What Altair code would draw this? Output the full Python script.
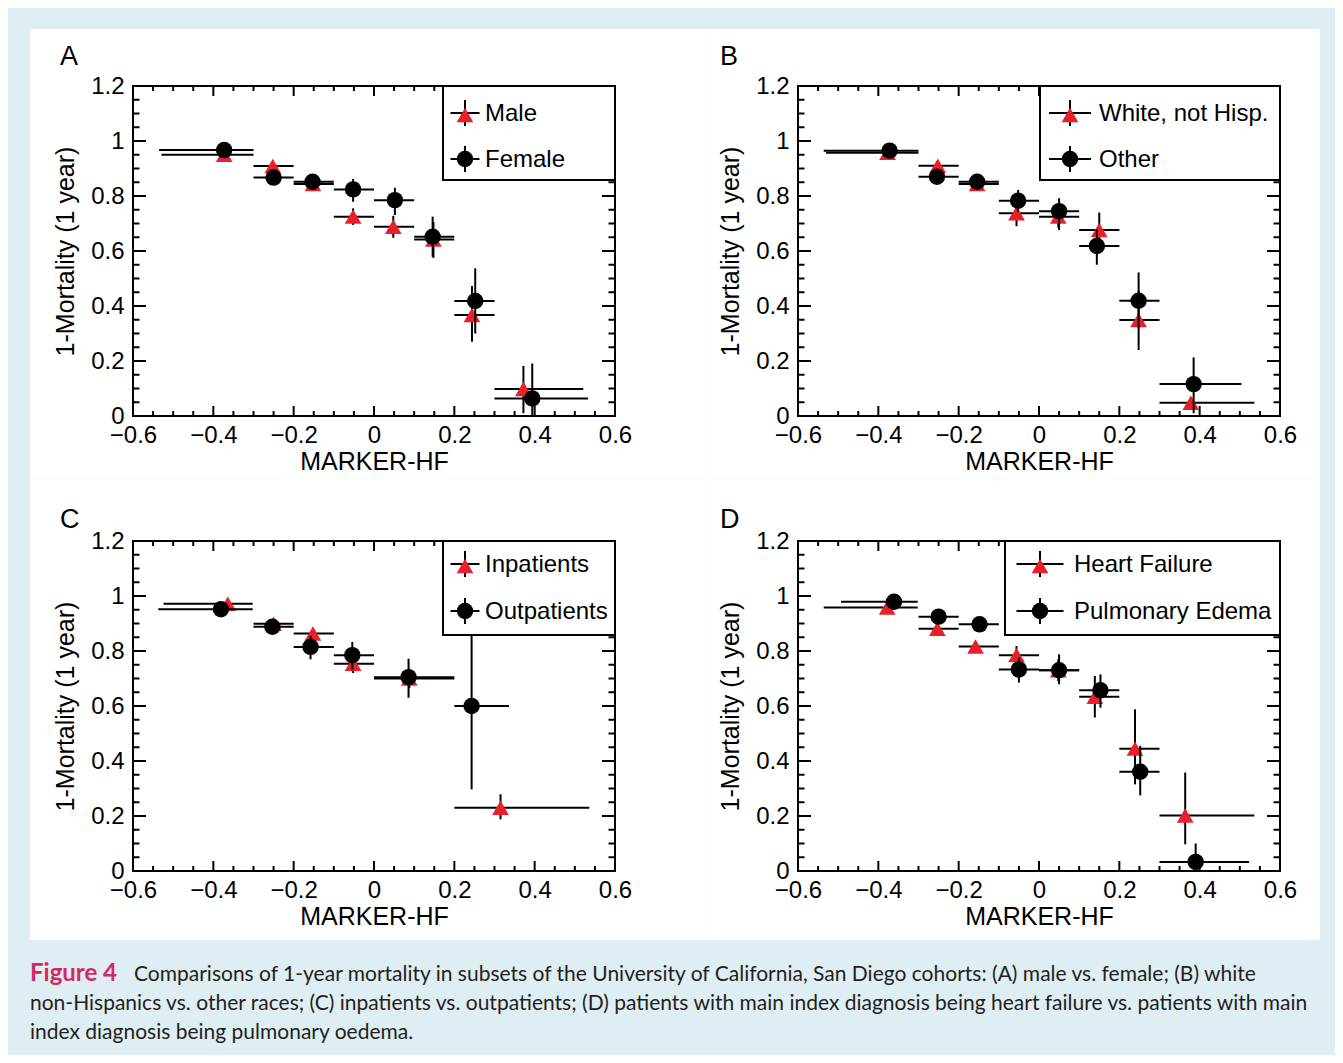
import altair as alt
import pandas as pd

# ---------------- axes / labels ----------------
X_DOMAIN = [-0.6, 0.6]
Y_DOMAIN = [0.0, 1.2]
X_MAJOR = [-0.6, -0.4, -0.2, 0.0, 0.2, 0.4, 0.6]
X_MINOR = [-0.55, -0.5, -0.45, -0.35, -0.3, -0.25, -0.15, -0.1, -0.05,
           0.05, 0.1, 0.15, 0.25, 0.3, 0.35, 0.45, 0.5, 0.55]
Y_MAJOR = [0.0, 0.2, 0.4, 0.6, 0.8, 1.0, 1.2]
Y_MINOR = [0.05, 0.1, 0.15, 0.25, 0.3, 0.35, 0.45, 0.5, 0.55,
           0.65, 0.7, 0.75, 0.85, 0.9, 0.95, 1.05, 1.1, 1.15]
X_TITLE = "MARKER-HF"
Y_TITLE = "1-Mortality (1 year)"
PANEL_LETTERS = ["A", "B", "C", "D"]
LEGEND_NAMES = [["Male", "Female"],
                ["White, not Hisp.", "Other"],
                ["Inpatients", "Outpatients"],
                ["Heart Failure", "Pulmonary Edema"]]
CAPTION_HEAD = "Figure 4"
CAPTION_LINES = [
    "Comparisons of 1-year mortality in subsets of the University of California, San Diego cohorts: (A) male vs. female; (B) white",
    "non-Hispanics vs. other races; (C) inpatients vs. outpatients; (D) patients with main index diagnosis being heart failure vs. patients with main",
    "index diagnosis being pulmonary oedema.",
]

# ---------------- Panel A ----------------
A1_x   = [-0.373, -0.252, -0.152, -0.052, 0.048, 0.148, 0.244, 0.372]
A1_xlo = [-0.529, -0.300, -0.200, -0.100, 0.000, 0.100, 0.200, 0.300]
A1_xhi = [-0.300, -0.200, -0.100, 0.000, 0.100, 0.200, 0.300, 0.521]
A1_y   = [0.950, 0.909, 0.844, 0.725, 0.688, 0.642, 0.367, 0.098]
A1_ylo = [0.940, 0.895, 0.830, 0.695, 0.648, 0.575, 0.270, 0.010]
A1_yhi = [0.960, 0.923, 0.858, 0.755, 0.728, 0.705, 0.473, 0.182]

A2_x   = [-0.373, -0.250, -0.153, -0.052, 0.052, 0.146, 0.252, 0.394]
A2_xlo = [-0.535, -0.300, -0.200, -0.100, 0.000, 0.100, 0.200, 0.300]
A2_xhi = [-0.300, -0.200, -0.100, 0.000, 0.100, 0.200, 0.300, 0.533]
A2_y   = [0.967, 0.867, 0.852, 0.824, 0.785, 0.652, 0.418, 0.064]
A2_ylo = [0.957, 0.852, 0.837, 0.779, 0.731, 0.579, 0.300, 0.000]
A2_yhi = [0.977, 0.882, 0.867, 0.862, 0.830, 0.725, 0.537, 0.191]

# ---------------- Panel B ----------------
B1_x   = [-0.377, -0.252, -0.154, -0.056, 0.048, 0.150, 0.248, 0.378]
B1_xlo = [-0.530, -0.300, -0.200, -0.100, 0.000, 0.100, 0.200, 0.300]
B1_xhi = [-0.300, -0.200, -0.100, 0.000, 0.100, 0.200, 0.300, 0.536]
B1_y   = [0.957, 0.910, 0.844, 0.737, 0.725, 0.676, 0.349, 0.048]
B1_ylo = [0.947, 0.895, 0.829, 0.690, 0.685, 0.610, 0.240, 0.030]
B1_yhi = [0.967, 0.925, 0.859, 0.762, 0.765, 0.740, 0.455, 0.066]

B2_x   = [-0.372, -0.254, -0.154, -0.052, 0.050, 0.144, 0.248, 0.385]
B2_xlo = [-0.536, -0.300, -0.200, -0.100, 0.000, 0.100, 0.200, 0.300]
B2_xhi = [-0.300, -0.200, -0.100, 0.000, 0.100, 0.200, 0.300, 0.504]
B2_y   = [0.965, 0.870, 0.852, 0.783, 0.745, 0.618, 0.419, 0.116]
B2_ylo = [0.955, 0.855, 0.837, 0.743, 0.676, 0.550, 0.319, 0.010]
B2_yhi = [0.975, 0.885, 0.867, 0.822, 0.792, 0.679, 0.522, 0.213]

# ---------------- Panel C ----------------
C1_x   = [-0.364, -0.250, -0.152, -0.052, 0.088, 0.315]
C1_xlo = [-0.524, -0.300, -0.200, -0.100, 0.000, 0.200]
C1_xhi = [-0.302, -0.200, -0.100, 0.000, 0.200, 0.536]
C1_y   = [0.972, 0.899, 0.864, 0.754, 0.700, 0.230]
C1_ylo = [0.962, 0.884, 0.844, 0.720, 0.665, 0.188]
C1_yhi = [0.982, 0.914, 0.884, 0.788, 0.735, 0.279]

C2_x   = [-0.381, -0.253, -0.158, -0.054, 0.086, 0.243]
C2_xlo = [-0.537, -0.300, -0.200, -0.100, 0.000, 0.200]
C2_xhi = [-0.302, -0.200, -0.100, 0.000, 0.200, 0.336]
C2_y   = [0.952, 0.888, 0.815, 0.785, 0.705, 0.600]
C2_ylo = [0.942, 0.873, 0.770, 0.733, 0.630, 0.297]
C2_yhi = [0.962, 0.903, 0.855, 0.833, 0.772, 0.903]

# ---------------- Panel D ----------------
D1_x   = [-0.378, -0.253, -0.158, -0.056, 0.048, 0.139, 0.239, 0.364]
D1_xlo = [-0.536, -0.300, -0.200, -0.100, 0.000, 0.100, 0.200, 0.300]
D1_xhi = [-0.302, -0.200, -0.100, 0.000, 0.100, 0.200, 0.300, 0.536]
D1_y   = [0.958, 0.881, 0.816, 0.785, 0.730, 0.634, 0.445, 0.202]
D1_ylo = [0.948, 0.866, 0.801, 0.750, 0.690, 0.558, 0.315, 0.097]
D1_yhi = [0.968, 0.896, 0.831, 0.818, 0.770, 0.709, 0.588, 0.358]

D2_x   = [-0.361, -0.250, -0.148, -0.050, 0.050, 0.153, 0.252, 0.390]
D2_xlo = [-0.493, -0.300, -0.200, -0.100, 0.000, 0.100, 0.200, 0.300]
D2_xhi = [-0.302, -0.200, -0.100, 0.000, 0.100, 0.200, 0.300, 0.523]
D2_y   = [0.979, 0.925, 0.897, 0.733, 0.730, 0.657, 0.361, 0.033]
D2_ylo = [0.969, 0.910, 0.882, 0.685, 0.679, 0.594, 0.275, 0.000]
D2_yhi = [0.989, 0.940, 0.912, 0.776, 0.788, 0.715, 0.455, 0.100]

# ---------------- styling ----------------
W, H = 482, 330
RED = "#e8202a"
BLACK = "#000000"
BLUE_BG = "#deeef3"
PINK = "#d42a63"
FONT = "Liberation Sans"
CAP_FONT = "Lato"
LW = 2


def mkdf(x, xlo, xhi, y, ylo, yhi):
    return pd.DataFrame({"x": x, "xlo": xlo, "xhi": xhi,
                         "y": y, "ylo": ylo, "yhi": yhi})


ONE = pd.DataFrame({"k": [0]})


def panel(letter, names, s1, s2, sheet, leg_left, sym_x, half, text_x,
          rows, letter_pos, caption=False):
    xs = alt.Scale(domain=X_DOMAIN, nice=False, zero=False)
    ys = alt.Scale(domain=Y_DOMAIN, nice=False, zero=False)
    x_axis = alt.Axis(title=X_TITLE, values=X_MAJOR, format=".1~f",
                      labelPadding=7, titlePadding=2, zindex=2)
    y_axis = alt.Axis(title=Y_TITLE, values=Y_MAJOR, format=".1~f",
                      labelPadding=9, titlePadding=12, zindex=2)

    def X(f):
        return alt.X(f, scale=xs, axis=x_axis)

    def Y(f):
        return alt.Y(f, scale=ys, axis=y_axis)

    layers = []
    # white sheet behind the panel
    layers.append(alt.Chart(ONE).mark_rect(fill="white", strokeWidth=0).encode(
        x=alt.value(sheet[0]), x2=alt.value(sheet[1]),
        y=alt.value(sheet[2]), y2=alt.value(sheet[3])))

    # ticks on the four sides, pointing inwards (ROOT style)
    for vals, ln, top in [(X_MAJOR, 10, False), (X_MINOR, 5, False),
                          (X_MAJOR, 10, True), (X_MINOR, 5, True)]:
        y1, y2 = (0, ln) if top else (H, H - ln)
        layers.append(alt.Chart(pd.DataFrame({"v": vals})).mark_rule(
            color="black", strokeWidth=LW).encode(
            x=X("v:Q"), y=alt.value(y1), y2=alt.value(y2)))
    for vals, ln, right in [(Y_MAJOR, 13, False), (Y_MINOR, 6.5, False),
                            (Y_MAJOR, 13, True), (Y_MINOR, 6.5, True)]:
        x1, x2 = (W, W - ln) if right else (0, ln)
        layers.append(alt.Chart(pd.DataFrame({"v": vals})).mark_rule(
            color="black", strokeWidth=LW).encode(
            y=Y("v:Q"), x=alt.value(x1), x2=alt.value(x2)))

    # data series
    for df, shape, col, size in [(s1, "triangle-up", RED, 280), (s2, "circle", BLACK, 270)]:
        base = alt.Chart(df)
        layers.append(base.mark_rule(color="black", strokeWidth=LW).encode(
            x=X("xlo:Q"), x2="xhi:Q", y=Y("y:Q")))
        layers.append(base.mark_rule(color="black", strokeWidth=LW).encode(
            x=X("x:Q"), y=Y("ylo:Q"), y2="yhi:Q"))
        layers.append(base.mark_point(shape=shape, filled=True, size=size,
                                      color=col, opacity=1, strokeWidth=0).encode(
            x=X("x:Q"), y=Y("y:Q")))

    # legend box
    layers.append(alt.Chart(ONE).mark_rect(fill="white", stroke="black",
                                           strokeWidth=LW).encode(
        x=alt.value(leg_left), x2=alt.value(W), y=alt.value(0), y2=alt.value(94)))
    for name, ry, shape, col, size in [(names[0], rows[0], "triangle-up", RED, 280),
                                       (names[1], rows[1], "circle", BLACK, 270)]:
        layers.append(alt.Chart(ONE).mark_rule(color="black", strokeWidth=LW).encode(
            x=alt.value(sym_x - half), x2=alt.value(sym_x + half), y=alt.value(ry)))
        layers.append(alt.Chart(ONE).mark_rule(color="black", strokeWidth=LW).encode(
            x=alt.value(sym_x), y=alt.value(ry - 13), y2=alt.value(ry + 13)))
        layers.append(alt.Chart(ONE).mark_point(shape=shape, filled=True, size=size,
                                                color=col, opacity=1, strokeWidth=0).encode(
            x=alt.value(sym_x), y=alt.value(ry + (2 if shape == "triangle-up" else 0))))
        layers.append(alt.Chart(pd.DataFrame({"t": [name]})).mark_text(
            align="left", baseline="middle", font=FONT, fontSize=24,
            color="black").encode(
            x=alt.value(text_x), y=alt.value(ry + 1), text="t:N"))

    # plot frame
    layers.append(alt.Chart(ONE).mark_rect(fill="transparent", stroke="black",
                                           strokeWidth=LW).encode(
        x=alt.value(0), x2=alt.value(W), y=alt.value(0), y2=alt.value(H)))

    # panel letter
    layers.append(alt.Chart(pd.DataFrame({"t": [letter]})).mark_text(
        align="left", baseline="alphabetic", font=FONT, fontSize=27,
        color="black").encode(
        x=alt.value(letter_pos[0]), y=alt.value(letter_pos[1]), text="t:N"))

    if caption:
        layers.append(alt.Chart(pd.DataFrame({"t": [CAPTION_HEAD]})).mark_text(
            align="left", baseline="alphabetic", font=CAP_FONT, fontSize=24,
            fontWeight="bold", color=PINK).encode(
            x=alt.value(-103), y=alt.value(440), text="t:N"))
        for i, (line, xoff) in enumerate(zip(CAPTION_LINES, [1, -103, -103])):
            layers.append(alt.Chart(pd.DataFrame({"t": [line]})).mark_text(
                align="left", baseline="alphabetic", font=CAP_FONT, fontSize=21,
                color="#231f20").encode(
                x=alt.value(xoff), y=alt.value(440 + 29 * i), text="t:N"))

    return alt.layer(*layers).properties(width=W, height=H)


pA = panel(PANEL_LETTERS[0], LEGEND_NAMES[0],
           mkdf(A1_x, A1_xlo, A1_xhi, A1_y, A1_ylo, A1_yhi),
           mkdf(A2_x, A2_xlo, A2_xhi, A2_y, A2_ylo, A2_yhi),
           (-103, 573.5, -57, 392.5), 310, 332, 14.5, 352, (27, 73), (-73, -21))
pB = panel(PANEL_LETTERS[1], LEGEND_NAMES[1],
           mkdf(B1_x, B1_xlo, B1_xhi, B1_y, B1_ylo, B1_yhi),
           mkdf(B2_x, B2_xlo, B2_xhi, B2_y, B2_ylo, B2_yhi),
           (-91.5, 522, -57, 392.5), 242, 272, 21, 301, (27, 73), (-78, -21))
pC = panel(PANEL_LETTERS[2], LEGEND_NAMES[2],
           mkdf(C1_x, C1_xlo, C1_xhi, C1_y, C1_ylo, C1_yhi),
           mkdf(C2_x, C2_xlo, C2_xhi, C2_y, C2_ylo, C2_yhi),
           (-103, 573.5, -62.5, 399), 310, 332, 14.5, 352, (23, 70), (-73, -13),
           caption=True)
pD = panel(PANEL_LETTERS[3], LEGEND_NAMES[3],
           mkdf(D1_x, D1_xlo, D1_xhi, D1_y, D1_ylo, D1_yhi),
           mkdf(D2_x, D2_xlo, D2_xhi, D2_y, D2_ylo, D2_yhi),
           (-91.5, 522, -62.5, 399), 207, 242, 23.5, 276, (23, 70), (-78, -13))

chart = alt.concat(pA, pB, pC, pD, columns=2,
                   spacing={"row": 125, "column": 183}, bounds="flush").properties(
    background=BLUE_BG,
    padding={"left": 22, "top": 21, "right": 15, "bottom": 12},
).configure_view(stroke=None).configure_axis(
    labelFont=FONT, labelFontSize=24, labelColor="black",
    titleFont=FONT, titleFontSize=25, titleFontWeight="normal", titleColor="black",
    ticks=False, domain=False, grid=False, zindex=2,
    labelFlush=False, labelOverlap=False,
)

chart.save("out.html", embed_options={"renderer": "svg", "actions": False})
